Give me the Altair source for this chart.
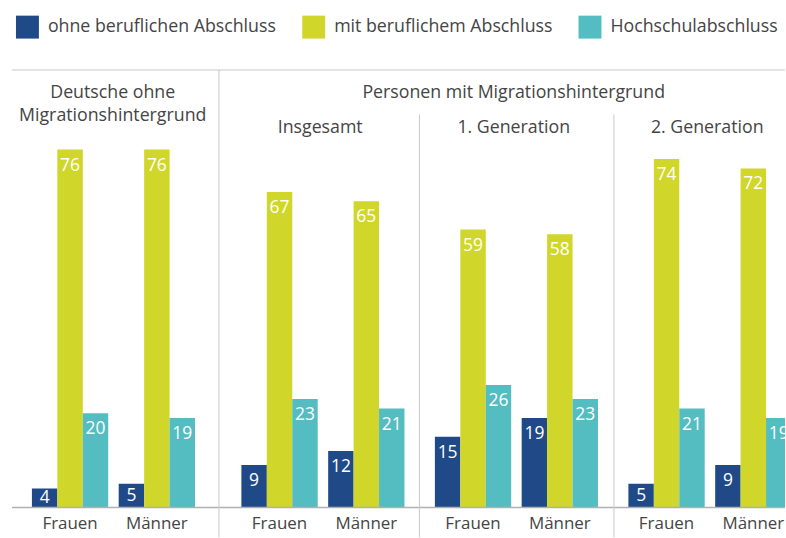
import altair as alt
import pandas as pd

groups = ["Deutsche ohne Migrationshintergrund", "Insgesamt", "1. Generation", "2. Generation"]
genders = ["Frauen", "Männer"]
categories = ["ohne beruflichen Abschluss", "mit beruflichem Abschluss", "Hochschulabschluss"]
ohne = [4, 5, 9, 12, 15, 19, 5, 9]
mit = [76, 76, 67, 65, 59, 58, 74, 72]
hoch = [20, 19, 23, 21, 26, 23, 21, 19]
colors = ["#1f4a87", "#d0d62a", "#54bdc1"]

rows = []
for i, g in enumerate(groups):
    for j, s in enumerate(genders):
        k = 2 * i + j
        for c, vals in zip(categories, [ohne, mit, hoch]):
            rows.append({"gruppe": g, "geschlecht": s, "abschluss": c, "wert": vals[k]})
df = pd.DataFrame(rows)
one = pd.DataFrame({"k": [0]})

FONT = "Open Sans"
TXT = "#444444"
LINE = "#c8c8c8"
H = 439
PI = 10.5 / 87
HFS = 17.8

legend = alt.Legend(orient="none", legendX=4, legendY=-54, direction="horizontal", title=None,
                    symbolType="square", symbolSize=529, symbolStrokeWidth=0,
                    labelFontSize=HFS, labelColor=TXT, labelOffset=9, columnPadding=26,
                    labelLimit=400, padding=0, labelFont=FONT)


def header(text, cx, cy):
    return alt.Chart(one).mark_text(text=text, fontSize=HFS, color=TXT, font=FONT,
                                    align="center", baseline="middle").encode(
        x=alt.value(cx), y=alt.value(cy))


def panel(g, width, rng, vtop=None, texts=()):
    base = alt.Chart(df).transform_filter(alt.datum.gruppe == g)
    x = alt.X("geschlecht:N", sort=genders, title=None,
              scale=alt.Scale(range=rng, paddingInner=PI, paddingOuter=0),
              axis=alt.Axis(domain=False, ticks=False, labelAngle=0, labelFontSize=17,
                            labelColor=TXT, labelPadding=8, labelFont=FONT))
    xo = alt.XOffset("abschluss:N", sort=categories, scale=alt.Scale(paddingInner=0, paddingOuter=0))
    yscale = alt.Scale(domain=[0, 93])
    color = alt.Color("abschluss:N", sort=categories,
                      scale=alt.Scale(domain=categories, range=colors), legend=legend)
    bars = base.mark_bar(clip=True).encode(
        x=x, xOffset=xo, y=alt.Y("wert:Q", scale=yscale, axis=None), color=color)
    labels = base.transform_calculate(
        lab="max(datum.wert - 3.4, datum.wert / 2)"
    ).mark_text(clip=True, color="white", fontSize=17.5, font=FONT, baseline="middle").encode(
        x=x, xOffset=xo, y=alt.Y("lab:Q", scale=yscale, axis=None), text="wert:Q")
    top = alt.Chart(one).mark_rule(color=LINE, strokeWidth=1).encode(
        x=alt.value(0), x2=alt.value(width), y=alt.value(0.5))
    basel = alt.Chart(one).mark_rule(color="#b0b0b0", strokeWidth=1.5).encode(
        x=alt.value(0), x2=alt.value(width), y=alt.value(H))
    layers = [bars, labels, top, basel]
    if vtop is not None:
        layers.append(alt.Chart(one).mark_rule(color=LINE, strokeWidth=1).encode(
            x=alt.value(0.5), y=alt.value(vtop), y2=alt.value(469)))
    for t, cx, cy in texts:
        layers.append(header(t, cx, cy))
    return alt.layer(*layers).properties(width=width, height=H)


p1 = panel(groups[0], 207, [20, 183.5],
           texts=[("Deutsche ohne", 101, 24), ("Migrationshintergrund", 101, 47)])
p2 = panel(groups[1], 201, [23, 186.5], vtop=0,
           texts=[("Insgesamt", 102, 59)])
p3 = panel(groups[2], 195, [16, 179.5], vtop=45,
           texts=[("Personen mit Migrationshintergrund", 95, 24), ("1. Generation", 95, 59)])
p4 = panel(groups[3], 172, [15, 178.5], vtop=45,
           texts=[("2. Generation", 94, 59)])

chart = alt.hconcat(p1, p2, p3, p4, spacing=0, bounds="flush").resolve_scale(
    x="independent", xOffset="independent"
).properties(
    padding={"left": 11, "top": 15, "right": 0, "bottom": 0}
).configure(font=FONT).configure_view(stroke=None)

chart.save("out.html", embed_options={"renderer": "svg", "actions": False})
